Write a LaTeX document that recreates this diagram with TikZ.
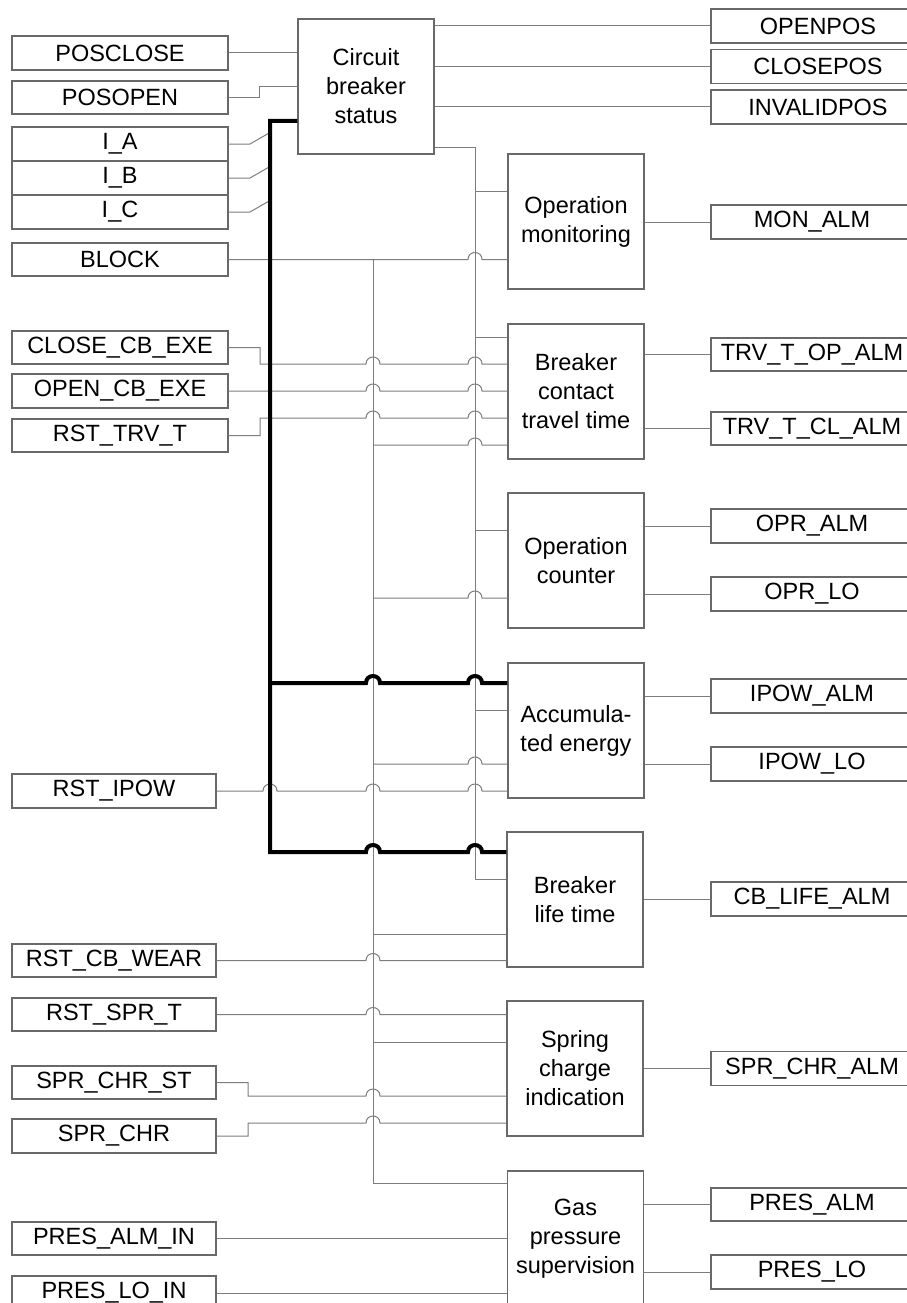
\documentclass[tikz,border=0pt]{standalone}
\usepackage{fontspec}
\setmainfont{Liberation Sans}
\definecolor{wiregray}{RGB}{125,125,125}
\definecolor{boxgray}{RGB}{105,105,105}
\newcommand{\hopat}[2]{-- ({#1-7},#2) .. controls ({#1-7},{#2-9.3}) and ({#1+7},{#2-9.3}) .. ({#1+7},#2)}
\tikzset{
  lbl/.style={draw=boxgray, line width=1.1pt, minimum height=34pt, inner sep=0pt,
              font=\fontsize{23.5}{29}\selectfont},
  inbox/.style={lbl, minimum width=216pt},
  shortbox/.style={lbl, minimum width=204pt},
  outbox/.style={lbl, minimum width=202pt},
  topbox/.style={lbl, minimum width=214pt},
  blockbox/.style={lbl, minimum width=136pt, minimum height=135pt, align=center},
  wire/.style={draw=wiregray, line width=1pt},
  bus/.style={draw=black, line width=4pt}
}
\begin{document}
\begin{tikzpicture}[x=1pt,y=-1pt]
\useasboundingbox (0,0) rectangle (907,1303);
\clip (0,0) rectangle (907,1303);
\fill[white] (0,0) rectangle (907,1303);

% ---- input boxes ----
\node[inbox] (posclose) at (120,53) {POSCLOSE};
\node[inbox,minimum height=33pt] (posopen) at (120,97.5) {POSOPEN};
\node[inbox] (ia) at (120,144) {I\_A};
\node[inbox] (ib) at (120,178) {I\_B};
\node[inbox] (ic) at (120,212) {I\_C};
\node[inbox,minimum height=33pt] (block) at (120,259.5) {BLOCK};
\node[inbox,minimum height=33pt] (closecb) at (120,347.5) {CLOSE\_CB\_EXE};
\node[inbox] (opencb) at (120,391) {OPEN\_CB\_EXE};
\node[inbox,minimum height=33pt] (rsttrv) at (120,435.5) {RST\_TRV\_T};
\node[shortbox] (rstipow) at (114,791) {RST\_IPOW};
\node[shortbox,minimum height=33pt] (rstcb) at (114,960.5) {RST\_CB\_WEAR};
\node[shortbox,minimum height=33pt] (rstspr) at (114,1014.5) {RST\_SPR\_T};
\node[shortbox,minimum height=33pt] (sprst) at (114,1082.5) {SPR\_CHR\_ST};
\node[shortbox] (sprchr) at (114,1136) {SPR\_CHR};
\node[shortbox,minimum height=33pt] (presalmin) at (114,1238.5) {PRES\_ALM\_IN};
\node[shortbox] (presloin) at (114,1293) {PRES\_LO\_IN};

% ---- function blocks ----
\node[blockbox] (cbs) at (366,86.5) {Circuit\\breaker\\status};
\node[blockbox] (opmon) at (576,221.5) {Operation\\monitoring};
\node[blockbox] (travel) at (576,391.5) {Breaker\\contact\\travel time};
\node[blockbox] (counter) at (576,560.5) {Operation\\counter};
\node[blockbox] (accum) at (576,730.5) {Accumula-\\ted energy};
\node[blockbox] (life) at (575,899.5) {Breaker\\life time};
\node[blockbox] (spring) at (575,1068.5) {Spring\\charge\\indication};
\node[blockbox] (gas) at (575.5,1238.5) {Gas\\pressure\\supervision};

% ---- output boxes ----
\node[topbox] (openpos) at (818,26) {OPENPOS};
\node[topbox] (closepos) at (818,66.5) {CLOSEPOS};
\node[topbox] (invalidpos) at (818,107) {INVALIDPOS};
\node[outbox] (monalm) at (812,222) {MON\_ALM};
\node[outbox,minimum height=33pt] (trvop) at (812,354.5) {TRV\_T\_OP\_ALM};
\node[outbox,minimum height=33pt] (trvcl) at (812,428.5) {TRV\_T\_CL\_ALM};
\node[outbox] (opralm) at (812,526) {OPR\_ALM};
\node[outbox] (oprlo) at (812,594) {OPR\_LO};
\node[outbox] (ipowalm) at (812,696) {IPOW\_ALM};
\node[outbox] (ipowlo) at (812,764) {IPOW\_LO};
\node[outbox] (cblife) at (812,899) {CB\_LIFE\_ALM};
\node[outbox] (sprchralm) at (812,1068.5) {SPR\_CHR\_ALM};
\node[outbox,minimum height=33pt] (presalm) at (812,1204.5) {PRES\_ALM};
\node[outbox] (preslo) at (812,1272) {PRES\_LO};

% ---- helper coordinates ----
\coordinate (bustop) at (270,121);
\coordinate (busbot) at (270,852);
\coordinate (busacc) at (270,683);
\coordinate (va) at (373,259.5);
\coordinate (vaend) at (373,1183);
\coordinate (vb) at (475,147);
\coordinate (vbend) at (475,879);

% ---- circuit breaker status inputs/outputs ----
\draw[wire] (posclose.east) -- (cbs.west |- posclose.east);
\draw[wire] (posopen.east) -| (259,87) -- (cbs.west |- 0,87);
\draw[wire] (ia.east) -- (250,144) -- (270,132.5);
\draw[wire] (ib.east) -- (250,178) -- (270,166.5);
\draw[wire] (ic.east) -- (250,212) -- (270,200.5);
\draw[wire] (cbs.east |- openpos.west) -- (openpos.west);
\draw[wire] (cbs.east |- closepos.west) -- (closepos.west);
\draw[wire] (cbs.east |- invalidpos.west) -- (invalidpos.west);

% ---- status distribution line (x=475) ----
\draw[wire] (cbs.east |- vb) -- (vb) -- (vbend) -- (life.west |- vbend);
\draw[wire] (475,191) -- (opmon.west |- 0,191);
\draw[wire] (475,337) -- (travel.west |- 0,337);
\draw[wire] (475,530) -- (counter.west |- 0,530);
\draw[wire] (475,710) -- (accum.west |- 0,710);

% ---- BLOCK distribution line (x=373) ----
\draw[wire] (block.east) -- (va) \hopat{475}{259.5} -- (opmon.west |- va);
\draw[wire] (va) -- (vaend) -- (gas.west |- vaend);
\draw[wire] (373,445) \hopat{475}{445} -- (travel.west |- 0,445);
\draw[wire] (373,598) \hopat{475}{598} -- (counter.west |- 0,598);
\draw[wire] (373,764) \hopat{475}{764} -- (accum.west |- 0,764);
\draw[wire] (373,934) -- (life.west |- 0,934);
\draw[wire] (373,1042) -- (spring.west |- 0,1042);

% ---- travel time inputs ----
\draw[wire] (closecb.east) -| (260,364) \hopat{373}{364} \hopat{475}{364} -- (travel.west |- 0,364);
\draw[wire] (opencb.east) \hopat{373}{391} \hopat{475}{391} -- (travel.west |- opencb.east);
\draw[wire] (rsttrv.east) -| (260,418) \hopat{373}{418} \hopat{475}{418} -- (travel.west |- 0,418);

% ---- other inputs ----
\draw[wire] (rstipow.east) \hopat{270}{791} \hopat{373}{791} \hopat{475}{791} -- (accum.west |- rstipow.east);
\draw[wire] (rstcb.east) \hopat{373}{960.5} -- (life.west |- rstcb.east);
\draw[wire] (rstspr.east) \hopat{373}{1014.5} -- (spring.west |- rstspr.east);
\draw[wire] (sprst.east) -| (248,1096) \hopat{373}{1096} -- (spring.west |- 0,1096);
\draw[wire] (sprchr.east) -| (248,1123) \hopat{373}{1123} -- (spring.west |- 0,1123);
\draw[wire] (presalmin.east) -- (gas.west |- presalmin.east);
\draw[wire] (presloin.east) -- (gas.west |- presloin.east);

% ---- block outputs ----
\draw[wire] (opmon.east |- monalm.west) -- (monalm.west);
\draw[wire] (travel.east |- trvop.west) -- (trvop.west);
\draw[wire] (travel.east |- trvcl.west) -- (trvcl.west);
\draw[wire] (counter.east |- opralm.west) -- (opralm.west);
\draw[wire] (counter.east |- oprlo.west) -- (oprlo.west);
\draw[wire] (accum.east |- ipowalm.west) -- (ipowalm.west);
\draw[wire] (accum.east |- ipowlo.west) -- (ipowlo.west);
\draw[wire] (life.east |- cblife.west) -- (cblife.west);
\draw[wire] (spring.east |- sprchralm.west) -- (sprchralm.west);
\draw[wire] (gas.east |- presalm.west) -- (presalm.west);
\draw[wire] (gas.east |- preslo.west) -- (preslo.west);

% ---- current bus (thick) ----
\draw[bus] (cbs.west |- bustop) -- (bustop) -- (busbot) \hopat{373}{852} \hopat{475}{852} -- (life.west |- busbot);
\draw[bus] (busacc) \hopat{373}{683} \hopat{475}{683} -- (accum.west |- busacc);
\end{tikzpicture}
\end{document}
